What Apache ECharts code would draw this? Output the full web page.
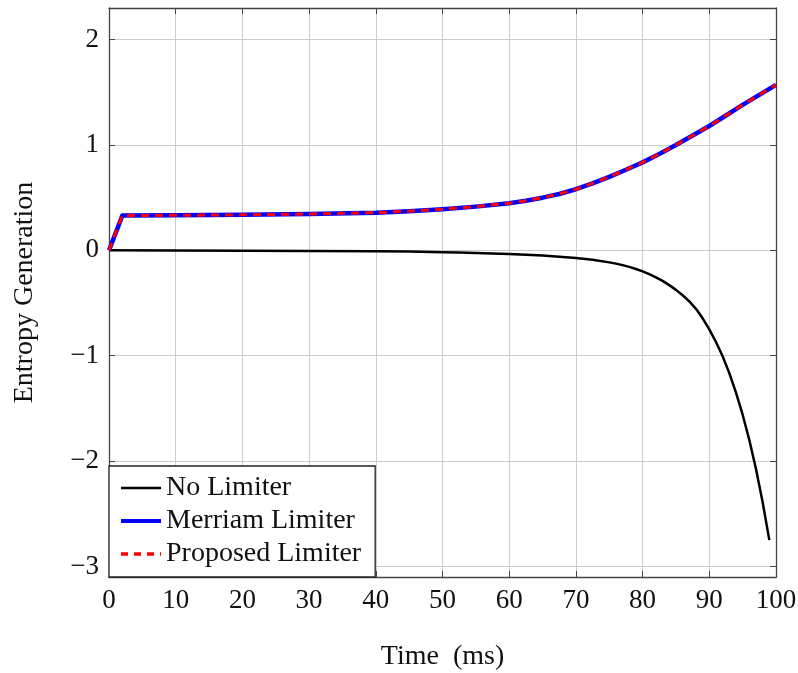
<!DOCTYPE html>
<html>
<head>
<meta charset="utf-8">
<script src="https://cdn.jsdelivr.net/npm/echarts@6/dist/echarts.min.js"></script>
<style>
  html, body { margin: 0; padding: 0; background: #fff; }
  #chart { width: 798px; height: 673px; }
</style>
</head>
<body>
<div id="chart"></div>
<script>
// Entropy generation over time for the three limiter variants
const noLimiterTime = [0, 10, 20, 30, 40, 45, 50, 52.5, 55, 57.5, 60, 62.5, 65, 67.5, 70, 72.5, 75, 76, 77, 78, 79, 80, 81, 82, 83, 84, 85, 86, 87, 88, 89, 90, 91, 92, 93, 94, 95, 96, 97, 98, 99];
const noLimiter = [0, -0.001, -0.003, -0.005, -0.009, -0.012, -0.017, -0.02, -0.024, -0.029, -0.035, -0.042, -0.05, -0.06, -0.073, -0.09, -0.114, -0.126, -0.14, -0.157, -0.177, -0.2, -0.226, -0.256, -0.29, -0.33, -0.375, -0.426, -0.484, -0.555, -0.645, -0.75, -0.87, -1.005, -1.165, -1.35, -1.56, -1.8, -2.075, -2.39, -2.75];

const limiterTime = [0, 2, 10, 20, 30, 40, 45, 50, 55, 60, 62.5, 65, 67.5, 70, 72.5, 75, 77.5, 80, 82.5, 85, 87.5, 90, 92.5, 95, 97.5, 100];
const merriamLimiter = [0, 0.33, 0.333, 0.337, 0.345, 0.358, 0.372, 0.39, 0.415, 0.447, 0.47, 0.5, 0.535, 0.58, 0.635, 0.698, 0.765, 0.835, 0.915, 1.0, 1.09, 1.18, 1.28, 1.38, 1.475, 1.57];
const proposedLimiter = [0, 0.33, 0.333, 0.337, 0.345, 0.358, 0.372, 0.39, 0.415, 0.447, 0.47, 0.5, 0.535, 0.58, 0.635, 0.698, 0.765, 0.835, 0.915, 1.0, 1.09, 1.18, 1.28, 1.38, 1.475, 1.57];

const xRange = { min: 0, max: 100, step: 10 };
const yRange = { min: -3.1, max: 2.3 };

const FONT = '"Liberation Serif", "DejaVu Serif", serif';
const frameColor = '#444444';
const gridColor = '#cccccc';

const pairs = (xs, ys) => xs.map((x, i) => [x, ys[i]]);
const minusSign = v => String(v).replace('-', '\u2212');

const chart = echarts.init(document.getElementById('chart'), null, { renderer: 'canvas' });

const tickInside = { show: true, inside: true, length: 6, lineStyle: { color: frameColor, width: 1 } };
const frameLine = { show: true, onZero: false, lineStyle: { color: frameColor, width: 1.3 } };

chart.setOption({
  backgroundColor: '#ffffff',
  animation: false,
  grid: { left: 109, right: 22, top: 8, bottom: 96, containLabel: false, outerBoundsMode: 'none' },
  legend: {
    orient: 'vertical',
    left: 109,
    top: 466,
    backgroundColor: '#ffffff',
    borderColor: '#222222',
    borderWidth: 1.3,
    borderRadius: 0,
    padding: [8, 14, 9, 10],
    itemGap: 5,
    itemWidth: 40,
    itemHeight: 14,
    itemStyle: { opacity: 0 },
    textStyle: { fontFamily: FONT, fontSize: 28, color: '#111' },
    data: [
      { name: 'No Limiter', lineStyle: { color: '#000000', width: 2.5, type: 'solid' } },
      { name: 'Merriam Limiter', lineStyle: { color: '#0000ff', width: 4, type: 'solid' } },
      { name: 'Proposed Limiter', lineStyle: { color: '#ff0000', width: 3.5, type: [7, 6] } }
    ]
  },
  xAxis: [
    {
      type: 'value', position: 'bottom',
      min: xRange.min, max: xRange.max, interval: xRange.step,
      name: 'Time\u00a0\u00a0(ms)', nameLocation: 'middle', nameGap: 66,
      nameTextStyle: { fontFamily: FONT, fontSize: 28, color: '#111' },
      axisLine: frameLine, axisTick: tickInside,
      axisLabel: { fontFamily: FONT, fontSize: 27, color: '#111', margin: 10 },
      splitLine: { show: true, lineStyle: { color: gridColor, width: 1 } }
    },
    {
      type: 'value', position: 'top',
      min: xRange.min, max: xRange.max, interval: xRange.step,
      axisLine: frameLine, axisTick: tickInside,
      axisLabel: { show: false }, splitLine: { show: false }
    }
  ],
  yAxis: [
    {
      type: 'value', position: 'left',
      min: yRange.min, max: yRange.max, splitNumber: 5,
      name: 'Entropy Generation', nameLocation: 'middle', nameGap: 70,
      nameTextStyle: { fontFamily: FONT, fontSize: 28, color: '#111' },
      axisLine: frameLine, axisTick: tickInside,
      axisLabel: {
        fontFamily: FONT, fontSize: 27, color: '#111', margin: 10,
        showMinLabel: true, showMaxLabel: true,
        formatter: v => (Math.abs(v - Math.round(v)) < 1e-9 ? minusSign(Math.round(v)) : '')
      },
      splitLine: { show: true, lineStyle: { color: gridColor, width: 1 } }
    },
    {
      type: 'value', position: 'right',
      min: yRange.min, max: yRange.max, splitNumber: 5,
      axisLine: frameLine, axisTick: tickInside,
      axisLabel: { show: false }, splitLine: { show: false }
    }
  ],
  series: [
    {
      name: 'No Limiter', type: 'line', xAxisIndex: 0, yAxisIndex: 0,
      data: pairs(noLimiterTime, noLimiter),
      smooth: false, symbol: 'none',
      lineStyle: { color: '#000000', width: 2.5, join: 'round' },
      itemStyle: { color: '#000000' }
    },
    {
      name: 'Merriam Limiter', type: 'line', xAxisIndex: 0, yAxisIndex: 0,
      data: pairs(limiterTime, merriamLimiter),
      smooth: false, symbol: 'none',
      lineStyle: { color: '#0000ff', width: 4.5, join: 'round' },
      itemStyle: { color: '#0000ff' }
    },
    {
      name: 'Proposed Limiter', type: 'line', xAxisIndex: 0, yAxisIndex: 0,
      data: pairs(limiterTime, proposedLimiter),
      smooth: false, symbol: 'none',
      lineStyle: { color: '#ff0000', width: 3, type: [8, 6] },
      itemStyle: { color: '#ff0000' }
    }
  ]
});
</script>
</body>
</html>
